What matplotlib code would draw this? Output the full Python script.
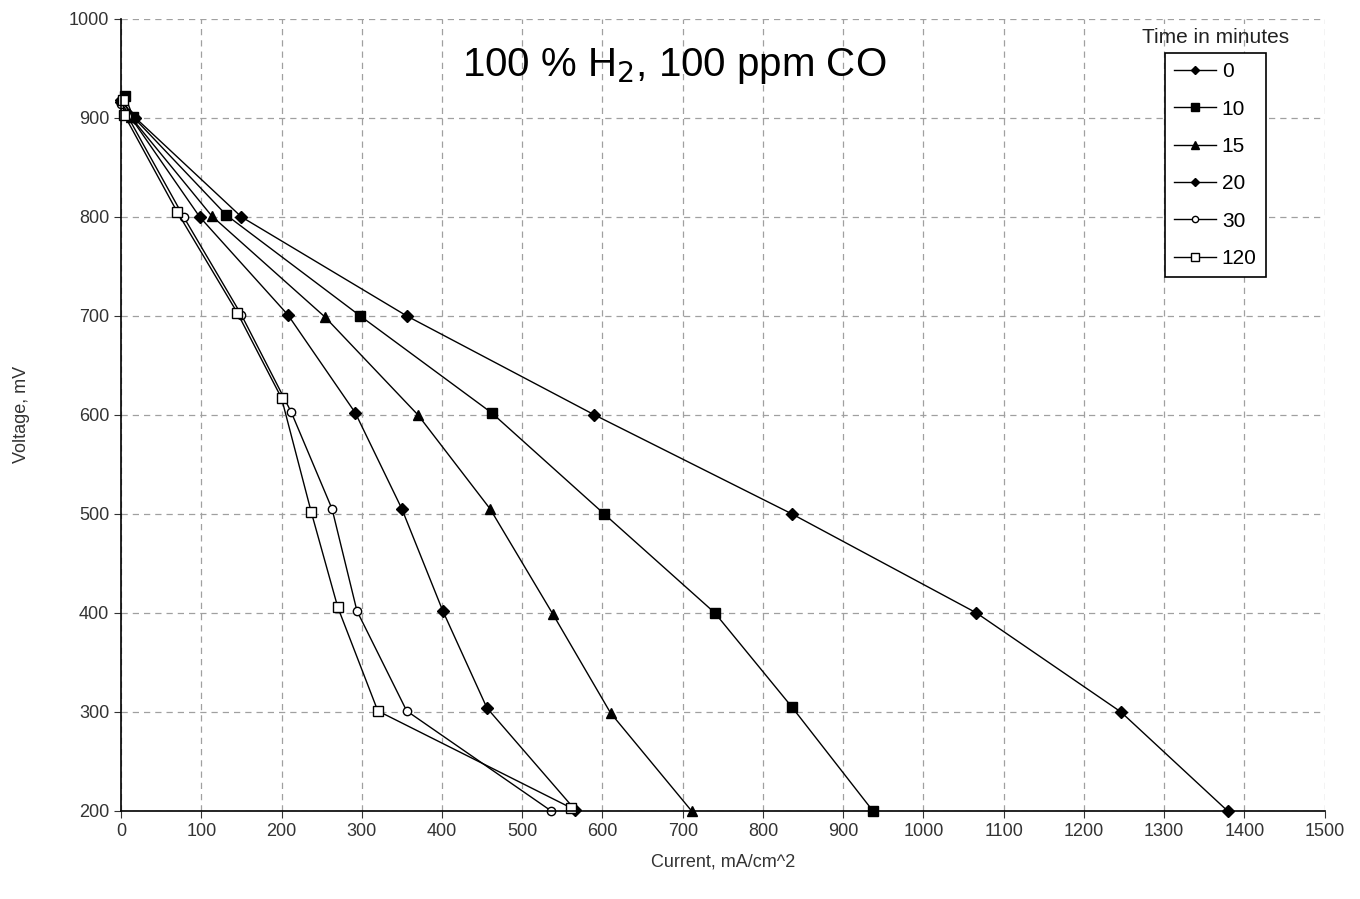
import matplotlib
matplotlib.use('Agg')
import matplotlib.pyplot as plt

plt.rcParams['font.family'] = ['Liberation Sans', 'DejaVu Sans']

# voltage steps (mV) shared by all runs, plus open-circuit start point
v_0 = [918, 900, 800, 700, 600, 500, 400, 300, 200]
i_0 = [0, 18, 150, 356, 590, 836, 1066, 1246, 1379]

v_10 = [922, 901, 802, 700, 602, 500, 400, 305, 200]
i_10 = [5, 15, 131, 298, 462, 602, 740, 836, 937]

v_15 = [920, 901, 801, 699, 600, 505, 399, 299, 200]
i_15 = [2, 12, 113, 254, 370, 460, 538, 610, 711]

v_20 = [916, 903, 800, 701, 602, 505, 402, 304, 201]
i_20 = [0, 10, 98, 208, 292, 350, 401, 456, 566]

v_30 = [914, 902, 800, 701, 603, 505, 402, 301, 200]
i_30 = [0, 8, 78, 150, 212, 263, 294, 356, 536]

v_120 = [918, 903, 805, 703, 617, 502, 406, 301, 203]
i_120 = [2, 4, 70, 145, 200, 237, 270, 320, 561]

series = [
    ('0', i_0, v_0, 'D', 'black', 6),
    ('10', i_10, v_10, 's', 'black', 7),
    ('15', i_15, v_15, '^', 'black', 7),
    ('20', i_20, v_20, 'D', 'black', 6),
    ('30', i_30, v_30, 'o', 'white', 6),
    ('120', i_120, v_120, 's', 'white', 7),
]

fig = plt.figure(figsize=(13.6, 8.99), dpi=100)
ax = fig.add_axes([0.089, 0.098, 0.885, 0.881])

for name, x, y, m, fc, ms in series:
    ax.plot(x, y, color='black', lw=1.0, marker=m, markersize=ms,
            markerfacecolor=fc, markeredgecolor='black', markeredgewidth=1.0,
            label=name, clip_on=False)

ax.set_xlim(0, 1500)
ax.set_ylim(200, 1000)
ax.set_xticks(range(0, 1501, 100))
ax.set_yticks(range(200, 1001, 100))
ax.grid(True, color='#a0a0a0', linestyle=(0, (5, 4)), lw=0.9)
ax.set_axisbelow(True)
for s in ['top', 'right']:
    ax.spines[s].set_visible(False)
for s in ['left', 'bottom']:
    ax.spines[s].set_linewidth(1.2)
ax.tick_params(labelsize=13, colors='#333333', length=5)

ax.set_xlabel('Current, mA/cm^2', fontsize=13, color='#333333', labelpad=10)
ax.set_ylabel('Voltage, mV', fontsize=13, color='#333333', labelpad=28)

ax.text(0.46, 0.941, '100 % H$_2$, 100 ppm CO', transform=ax.transAxes,
        ha='center', va='center', fontsize=29)

leg = ax.legend(loc='upper left', bbox_to_anchor=(0.867, 0.957), fontsize=15,
                fancybox=False, edgecolor='black', framealpha=1,
                handlelength=2.0, handletextpad=0.3, labelspacing=0.88,
                borderpad=0.45, borderaxespad=0, markerscale=0.75)
leg.get_frame().set_linewidth(1.2)
ax.text(0.909, 0.976, 'Time in minutes', transform=ax.transAxes,
        ha='center', va='center', fontsize=15, color='#222222')

fig.savefig('out.png', dpi=100)
